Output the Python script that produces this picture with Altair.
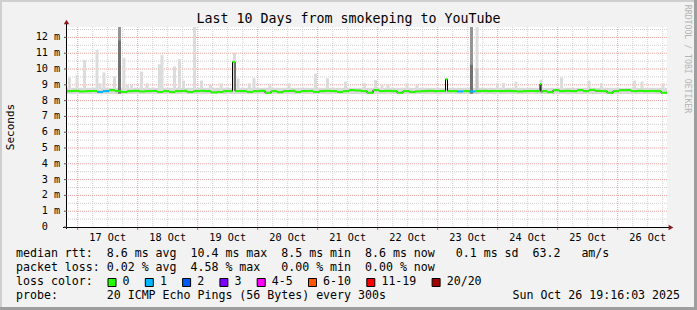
import altair as alt
import pandas as pd

# ---------------- data (hours after 16 Oct 00:00, values in ms) ----------------
T0, T1 = 19.72, 259.72
Y_MAX = 12.66
STEP = 2.4  # hours between median samples

median_ms = [
    8.60, 8.62, 8.58, 8.60, 8.61, 8.55, 8.60, 8.66, 8.60, 8.55,
    8.60, 8.62, 8.58, 8.60, 8.61, 8.55, 8.60, 8.55, 8.60, 8.62,
    8.54, 8.60, 8.62, 8.60, 8.52, 8.55, 8.60, 8.60, 8.61, 8.60,
    8.55, 8.60, 8.62, 8.50, 8.60, 8.53, 8.60, 8.62, 8.55, 8.60,
    8.61, 8.55, 8.60, 8.62, 8.60, 8.55, 8.60, 8.66, 8.64, 8.60,
    8.50, 8.66, 8.60, 8.62, 8.60, 8.50, 8.60, 8.55, 8.58, 8.60,
    8.62, 8.60, 8.61, 8.60, 8.60, 8.58, 8.60, 8.58, 8.60, 8.62,
    8.60, 8.61, 8.60, 8.62, 8.60, 8.58, 8.60, 8.61, 8.60, 8.54,
    8.54, 8.66, 8.60, 8.62, 8.60, 8.66, 8.60, 8.68, 8.62, 8.60,
    8.50, 8.60, 8.66, 8.66, 8.60, 8.62, 8.60, 8.61, 8.60, 8.50,
]
loss_at = {5: 1, 6: 1, 65: 1, 67: 1}

spike_start = [85.92, 171.12, 208.92]
spike_end = [87.12, 171.92, 209.85]
spike_ms = [10.45, 9.35, 9.05]

smoke_hours = [20.72, 23.72, 26.72, 31.72, 32.92, 34.52, 38.72, 42.52, 43.92, 45.52,
               49.52, 51.72, 56.72, 57.72, 62.72, 64.72, 66.32, 70.72, 73.52, 77.12,
               81.32, 86.72, 88.12, 92.72, 94.52, 100.92, 108.52, 119.12, 123.92, 131.12,
               138.72, 143.12, 145.72, 148.12, 155.72, 159.72, 183.72, 191.92, 194.32, 199.32,
               209.32, 217.52, 228.52, 233.52, 246.72, 249.72, 258.12]
smoke_tops = [9.46, 9.63, 10.58, 11.21, 9.10, 9.78, 9.52, 10.69, 9.00, 9.00,
              9.84, 9.10, 10.30, 10.90, 10.16, 10.62, 9.27, 12.66, 9.27, 9.00,
              9.10, 11.04, 9.40, 9.10, 9.42, 9.00, 9.10, 9.70, 9.42, 9.20,
              9.10, 9.30, 9.00, 9.05, 9.10, 9.00, 12.66, 9.10, 9.12, 9.20,
              9.32, 9.46, 9.27, 9.10, 9.27, 9.20, 9.10]
mid_hours = [183.72]
mid_tops = [10.05]
dark_hours = [40.72, 181.52]
dark_tops = [12.66, 12.66]
dark_lower_tops = [11.80, 10.27]
band_lo, band_hi = 8.42, 8.82
smoke_floor = 8.45

day_labels = ["17 Oct", "18 Oct", "19 Oct", "20 Oct", "21 Oct",
              "22 Oct", "23 Oct", "24 Oct", "25 Oct", "26 Oct"]
day_noon = [36, 60, 84, 108, 132, 156, 180, 204, 228, 252]
midnights = [24, 48, 72, 96, 120, 144, 168, 192, 216, 240]
quarter_hours = [h for h in range(24, 260, 6) if h % 24 != 0 and T0 < h < T1]
y_major = list(range(1, 13))
y_minor = [v + 0.5 for v in range(0, 13) if v + 0.5 < Y_MAX]
y_ticks = list(range(0, 13))

title = "Last 10 Days from smokeping to YouTube"
nb = "\u00a0"
legend_lines = [
    "median rtt:  8.6 ms avg  10.4 ms max  8.5 ms min  8.6 ms now   0.1 ms sd  63.2   am/s",
    "packet loss: 0.02 % avg  4.58 % max   0.00 % min  0.00 % now",
    "loss color:",
    "probe:       20 ICMP Echo Pings (56 Bytes) every 300s",
]
stamp = "Sun Oct 26 19:16:03 2025"
loss_labels = ["0", "1", "2", "3", "4-5", "6-10", "11-19", "20/20"]
loss_colors = ["#26ff00", "#00b8ff", "#0059ff", "#7e00ff", "#ff00ff", "#ff5500", "#ff0000", "#a10000"]

# ---------------- build tables ----------------
xs = alt.Scale(domain=[T0, T1], nice=False, zero=False)
ys = alt.Scale(domain=[0, Y_MAX], nice=False, zero=False)

pts = []
for i, v in enumerate(median_ms):
    pts.append((T0 + STEP * i, v, loss_at.get(i, 0)))
for s, e, v in zip(spike_start, spike_end, spike_ms):
    idx = int((s - T0) // STEP)
    pts.append((s, v, 0))
    pts.append((e, median_ms[idx], loss_at.get(idx, 0)))
pts.sort(key=lambda p: p[0])
med = pd.DataFrame(pts, columns=["t", "v", "loss"])
med["t2"] = list(med["t"].iloc[1:]) + [T1]
med["lo"] = med["v"] - 0.065
med["hi"] = med["v"] + 0.065
step_line = pd.concat([med[["t", "v"]], pd.DataFrame({"t": [T1], "v": [med["v"].iloc[-1]]})])

W = 1.2
smoke = pd.DataFrame({"h": smoke_hours, "top": smoke_tops})
smoke["x0"] = smoke["h"] - W / 2
smoke["x1"] = smoke["h"] + W / 2
smoke["lo"] = smoke_floor
mid = pd.DataFrame({"x0": [h - W / 2 for h in mid_hours], "x1": [h + W / 2 for h in mid_hours],
                    "lo": smoke_floor, "top": mid_tops})
dark = pd.DataFrame({"x0": [h - W / 2 for h in dark_hours], "x1": [h + W / 2 for h in dark_hours],
                     "lo": smoke_floor, "top": dark_tops, "lower": dark_lower_tops})
band = pd.DataFrame({"x0": [T0], "x1": [T1], "lo": [band_lo], "hi": [band_hi]})

MONO = "DejaVu Sans Mono"
one = pd.DataFrame({"k": [0]})


def X(f):
    return alt.X(f, type="quantitative", scale=xs, axis=None)


def Y(f):
    return alt.Y(f, type="quantitative", scale=ys, axis=None)


def txt(s, x, y, size, align="left", color="#000000", angle=0):
    return alt.Chart(pd.DataFrame({"s": [s.replace(" ", nb)]})).mark_text(
        font=MONO, fontSize=size, align=align, baseline="middle", color=color, angle=angle
    ).encode(x=alt.value(x), y=alt.value(y), text="s:N")


layers = []
# frame
for (a, b, c, d, col) in [(-67, 630, -27, -25, "#cfcfcf"), (-67, -65, -27, 283, "#cfcfcf"),
                          (-67, 630, 280, 283, "#9e9e9e"), (627, 630, -27, 283, "#9e9e9e")]:
    layers.append(alt.Chart(one).mark_rect(color=col).encode(
        x=alt.value(a), x2=alt.value(b), y=alt.value(c), y2=alt.value(d)))
# grid
layers.append(alt.Chart(pd.DataFrame({"v": y_minor})).mark_rule(color="#cfcfcf", strokeDash=[1, 1]).encode(y=Y("v")))
layers.append(alt.Chart(pd.DataFrame({"h": quarter_hours})).mark_rule(color="#cfcfcf", strokeDash=[1, 1]).encode(x=X("h")))
layers.append(alt.Chart(pd.DataFrame({"v": y_major})).mark_rule(color="#eba3a3", strokeDash=[1, 1]).encode(y=Y("v")))
layers.append(alt.Chart(pd.DataFrame({"h": midnights})).mark_rule(color="#eba3a3", strokeDash=[1, 1]).encode(x=X("h")))
# smoke
layers.append(alt.Chart(band).mark_rect(color="#d9d9d9").encode(x=X("x0"), x2="x1", y=Y("lo"), y2="hi"))
layers.append(alt.Chart(smoke).mark_rect(color="#dcdcdc").encode(x=X("x0"), x2="x1", y=Y("lo"), y2="top"))
layers.append(alt.Chart(mid).mark_rect(color="#c6c6c6").encode(x=X("x0"), x2="x1", y=Y("lo"), y2="top"))
layers.append(alt.Chart(dark).mark_rect(color="#959595").encode(x=X("x0"), x2="x1", y=Y("lo"), y2="top"))
layers.append(alt.Chart(dark).mark_rect(color="#727272").encode(x=X("x0"), x2="x1", y=Y("lo"), y2="lower"))
# median
layers.append(alt.Chart(step_line).mark_line(color="#000000", strokeWidth=1, interpolate="step-after").encode(
    x=X("t"), y=Y("v")))
layers.append(alt.Chart(med).mark_rect().encode(
    x=X("t"), x2="t2", y=Y("lo"), y2="hi",
    color=alt.Color("loss:N", scale=alt.Scale(domain=[0, 1], range=["#26ff00", "#00b8ff"]), legend=None)))
# axes
layers.append(alt.Chart(one).mark_rule(color="#000000").encode(
    x=alt.value(-0.5), y=alt.value(-4), y2=alt.value(202)))
layers.append(alt.Chart(one).mark_rule(color="#000000").encode(
    x=alt.value(-4), x2=alt.value(604), y=alt.value(200.5)))
layers.append(alt.Chart(pd.DataFrame({"h": midnights})).mark_rule(color="#e06060").encode(
    x=X("h"), y=alt.value(201), y2=alt.value(203)))
layers.append(alt.Chart(pd.DataFrame({"v": y_ticks})).mark_rule(color="#555555").encode(
    y=Y("v"), x=alt.value(-3), x2=alt.value(0)))
layers.append(alt.Chart(one).mark_point(shape="triangle-up", filled=True, color="#8b1a1a", size=30, opacity=1).encode(
    x=alt.value(-0.5), y=alt.value(-5)))
layers.append(alt.Chart(one).mark_point(shape="triangle-right", filled=True, color="#8b1a1a", size=30, opacity=1).encode(
    x=alt.value(604), y=alt.value(200.5)))
# axis labels
layers.append(alt.Chart(pd.DataFrame({"h": day_noon, "s": day_labels})).mark_text(
    font=MONO, fontSize=10.2, baseline="middle", color="#000000").encode(x=X("h"), y=alt.value(211), text="s:N"))
layers.append(alt.Chart(pd.DataFrame({"v": y_ticks, "s": [str(v) for v in y_ticks]})).mark_text(
    font=MONO, fontSize=10.2, align="right", baseline="middle", color="#000000").encode(
    y=Y("v"), x=alt.value(-19), text="s:N"))
layers.append(alt.Chart(pd.DataFrame({"v": y_ticks[1:], "s": ["m"] * 12})).mark_text(
    font=MONO, fontSize=10.2, align="left", baseline="middle", color="#000000").encode(
    y=Y("v"), x=alt.value(-13), text="s:N"))
# texts
layers.append(txt(title, 281.5, -8, 13.3, align="center"))
layers.append(txt("Seconds", -56, 100, 11, align="center", angle=270))
layers.append(txt("RRDTOOL / TOBI OETIKER", 620, 32, 8.2, align="center", color="#b4b4b4", angle=90))
for line, yy in zip(legend_lines, [227.3, 241.3, 255.3, 269]):
    layers.append(txt(line, -51, yy, 11.6))
layers.append(txt(stamp, 613, 269, 11.6, align="right"))
bx = 41.0
for lab, col in zip(loss_labels, loss_colors):
    layers.append(alt.Chart(one).mark_rect(color=col, stroke="#000000", strokeWidth=1).encode(
        x=alt.value(bx), x2=alt.value(bx + 8), y=alt.value(251.5), y2=alt.value(259.5)))
    layers.append(txt(lab, bx + 14.6, 255.3, 11.6))
    bx += 30.3 + 7 * len(lab)

chart = alt.layer(*layers).properties(
    width=600, height=200,
    padding={"left": 67, "top": 27, "right": 30, "bottom": 83},
    autosize=alt.AutoSizeParams(type="none"),
).configure(background="#f2f2f2").configure_view(fill="#ffffff", strokeWidth=0)

chart.save("out.html", embed_options={"renderer": "svg", "actions": False})
